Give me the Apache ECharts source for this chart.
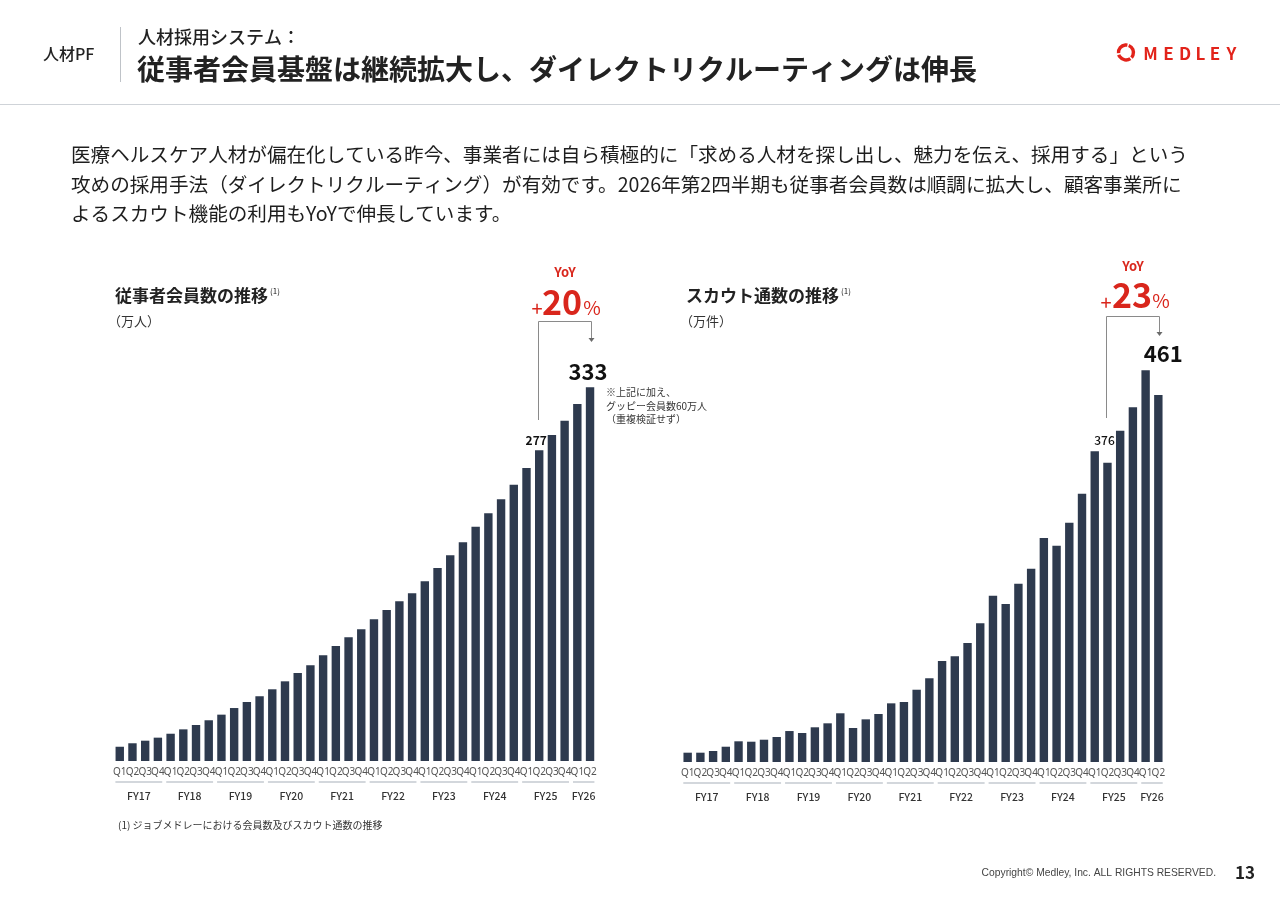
<!DOCTYPE html>
<html><head><meta charset="utf-8">
<script src="https://cdn.jsdelivr.net/npm/echarts@6.0.0/dist/echarts.min.js"></script>
<style>html,body{margin:0;padding:0;background:#fff}#c{width:1280px;height:905px}</style>
</head><body><div id="c"></div>
<script>
// ---- data ----
const fiscalYears = ['FY17','FY18','FY19','FY20','FY21','FY22','FY23','FY24','FY25','FY26'];
const quartersPerYear = [4,4,4,4,4,4,4,4,4,2];
const quarterLabels = ['Q1','Q2','Q3','Q4'];
// 従事者会員数 (万人)
const memberValues = [12.7,15.8,18.1,20.8,24.3,28.2,32.1,36.3,41.3,47.2,52.6,57.7,63.9,71.0,78.4,85.3,94.2,102.5,110.2,117.4,126.3,134.6,142.3,149.4,160.1,172.0,183.3,194.9,208.8,220.7,233.2,246.2,261.1,277,290.5,303.2,318.1,333];
// スカウト通数 (万件)
const scoutValues = [11.7,11.7,13.8,19.2,26.0,25.5,28.0,31.4,38.9,36.4,43.6,48.6,61.2,42.7,53.6,60.3,73.7,75.4,90.8,105.2,126.9,132.8,149.5,174.2,208.9,198.5,224.0,242.8,281.4,271.7,300.6,337.1,390.3,376,416.2,445.6,492.1,461];
const yoyFrom = 33, yoyTo = 37;
const memberYoY = '20', scoutYoY = '23';

// ---- derived ----
const categories = [];
const fyRanges = [];
fiscalYears.forEach((fy, k) => {
  const s = categories.length;
  for (let q = 0; q < quartersPerYear[k]; q++) categories.push(fy + ' ' + quarterLabels[q]);
  fyRanges.push([s, categories.length - 1]);
});

const FONT = "'Noto Sans CJK JP','Noto Sans',sans-serif";
const BAR = '#2e3a4e';
const RED = '#d9261c';

function barData(vals, small, big) {
  return vals.map((v, i) => {
    if (i === yoyFrom) return {value: v, label: Object.assign({show: true, position: 'top', color: '#111', fontFamily: FONT, formatter: '{c}'}, small)};
    if (i === yoyTo) return {value: v, label: Object.assign({show: true, position: 'top', color: '#111', fontFamily: FONT, formatter: '{c}'}, big)};
    return v;
  });
}

function fySeries(idx) {
  return {
    type: 'custom', xAxisIndex: idx, yAxisIndex: idx, silent: true, clip: false,
    data: fyRanges,
    renderItem(params, api) {
      const s = api.value(0), e = api.value(1);
      const p0 = api.coord([s, 0]), p1 = api.coord([e, 0]);
      const w = api.size([1, 0])[0];
      const x0 = p0[0] - w / 2 + 2, x1 = p1[0] + w / 2 - 2;
      const y = p0[1];
      return {type: 'group', children: [
        {type: 'line', shape: {x1: x0, y1: y + 21, x2: x1, y2: y + 21}, style: {stroke: '#d3d7dc', lineWidth: 2}},
        {type: 'text', style: {text: fiscalYears[params.dataIndex], x: (x0 + x1) / 2, y: y + 35, align: 'center', verticalAlign: 'middle', textAlign: 'center', textVerticalAlign: 'middle', fill: '#333', font: '500 10.5px ' + FONT}}
      ]};
    }
  };
}

const xAxisBase = {
  type: 'category', data: categories,
  axisLine: {show: false}, axisTick: {show: false},
  axisLabel: {interval: 0, formatter: v => v.slice(-2), fontSize: 10, color: '#555', margin: 6, fontFamily: "'Noto Sans',sans-serif"}
};

const chart = echarts.init(document.getElementById('c'), null, {renderer: 'canvas'});
chart.setOption({
  animation: false,
  grid: [
    {left: 113.4, width: 483, top: 312.1, height: 448.9},
    {left: 681.3, width: 483.4, top: 284.4, height: 477.6}
  ],
  xAxis: [Object.assign({gridIndex: 0}, xAxisBase), Object.assign({gridIndex: 1}, xAxisBase)],
  yAxis: [
    {gridIndex: 0, type: 'value', min: 0, max: 400, show: false},
    {gridIndex: 1, type: 'value', min: 0, max: 600, show: false}
  ],
  series: [
    {type: 'bar', xAxisIndex: 0, yAxisIndex: 0, barWidth: 8.4, itemStyle: {color: BAR},
     data: barData(memberValues, {fontSize: 12, fontWeight: 'bold', distance: 4, offset: [-3, 0]}, {fontSize: 22, fontWeight: 'bold', distance: 5, offset: [-2, 0]})},
    {type: 'bar', xAxisIndex: 1, yAxisIndex: 1, barWidth: 8.4, itemStyle: {color: BAR},
     data: barData(scoutValues, {fontSize: 12, fontWeight: 500, distance: 16, offset: [-3, 0]}, {fontSize: 22, fontWeight: 'bold', distance: 30, offset: [5, 0]})},
    fySeries(0), fySeries(1)
  ]
});

function T(text, x, y, font, fill, align, vAlign) {
  align = align || 'left'; vAlign = vAlign || 'middle';
  return {type: 'text', silent: true, style: {text, x, y, font, fill, align, verticalAlign: vAlign, textAlign: align, textVerticalAlign: vAlign}};
}
function L(x1, y1, x2, y2, stroke, lw) {
  return {type: 'line', silent: true, shape: {x1, y1, x2, y2}, style: {stroke, lineWidth: lw || 1}};
}

function bracket(gi, topY, bottomY, arrowY) {
  const a = chart.convertToPixel({xAxisIndex: gi, yAxisIndex: gi}, [yoyFrom, 0]);
  const b = chart.convertToPixel({xAxisIndex: gi, yAxisIndex: gi}, [yoyTo, 0]);
  const xa = Math.round(a[0]) - 1 + 0.5, xb = Math.round(b[0]) + 1 + 0.5;
  return [
    {type: 'polyline', silent: true, shape: {points: [[xa, bottomY], [xa, topY], [xb, topY], [xb, arrowY - 3]]}, style: {stroke: '#8a8a8a', lineWidth: 1, fill: null}},
    {type: 'polygon', silent: true, shape: {points: [[xb - 3, arrowY - 4], [xb + 3, arrowY - 4], [xb, arrowY]]}, style: {fill: '#6a6a6a'}}
  ];
}

const g = [];
// header
g.push(T('人材PF', 43, 54, '500 16px ' + FONT, '#222'));
g.push(L(120.5, 27, 120.5, 82, '#bfc3c8', 1));
g.push(T('人材採用システム：', 138, 37, '500 18px ' + FONT, '#222'));
g.push(T('従事者会員基盤は継続拡大し、ダイレクトリクルーティングは伸長', 137, 69, 'bold 28px ' + FONT, '#222'));
g.push(L(0, 104.5, 1280, 104.5, '#cfd3d8', 1));
// logo
g.push({type: 'arc', silent: true, shape: {cx: 1126, cy: 52.5, r: 7.5, startAngle: -1.2, endAngle: 0.75}, style: {stroke: '#e2231a', lineWidth: 3.4, fill: null}});
g.push({type: 'arc', silent: true, shape: {cx: 1126, cy: 52.5, r: 7.5, startAngle: 0.95, endAngle: 2.85}, style: {stroke: '#e2231a', lineWidth: 3.4, fill: null}});
g.push({type: 'arc', silent: true, shape: {cx: 1126, cy: 52.5, r: 7.5, startAngle: 3.05, endAngle: 4.9}, style: {stroke: '#e2231a', lineWidth: 3.4, fill: null}});
const logoLetters = ['M','E','D','L','E','Y'];
const logoX = [1150.5, 1168.5, 1185, 1200.5, 1215, 1231.5];
logoLetters.forEach((ch, i) => g.push(T(ch, logoX[i], 53.5, 'bold 17px ' + FONT, '#e2231a', 'center')));
// paragraph
g.push(T('医療ヘルスケア人材が偏在化している昨今、事業者には自ら積極的に「求める人材を探し出し、魅力を伝え、採用する」という', 71, 155, '19.6px ' + FONT, '#1e1e1e'));
g.push(T('攻めの採用手法（ダイレクトリクルーティング）が有効です。2026年第2四半期も従事者会員数は順調に拡大し、顧客事業所に', 71, 185, '19.6px ' + FONT, '#1e1e1e'));
g.push(T('よるスカウト機能の利用もYoYで伸長しています。', 71, 214, '19.6px ' + FONT, '#1e1e1e'));
// chart titles
g.push(T('従事者会員数の推移', 115, 296, 'bold 17px ' + FONT, '#222'));
g.push(T('(1)', 270, 291, '8px ' + FONT, '#222'));
g.push(T('（万人）', 108, 321, '13px ' + FONT, '#333'));
g.push(T('スカウト通数の推移', 686, 296, 'bold 17px ' + FONT, '#222'));
g.push(T('(1)', 841, 291, '8px ' + FONT, '#222'));
g.push(T('（万件）', 680, 321, '13px ' + FONT, '#333'));
// YoY left
g.push(T('YoY', 565, 272, 'bold 13px ' + FONT, RED, 'center'));
g.push(T('+', 537, 308, '20px ' + FONT, RED, 'center'));
g.push(T(memberYoY, 562, 302, 'bold 34px ' + FONT, RED, 'center'));
g.push(T('%', 592, 308, '19px ' + FONT, RED, 'center'));
bracket(0, 321.5, 420, 342).forEach(e => g.push(e));
// note
g.push(T('※上記に加え、', 606, 392, '10px ' + FONT, '#333'));
g.push(T('グッピー会員数60万人', 606, 406, '10px ' + FONT, '#333'));
g.push(T('（重複検証せず）', 606, 419, '10px ' + FONT, '#333'));
// YoY right
g.push(T('YoY', 1133, 266, 'bold 13px ' + FONT, RED, 'center'));
g.push(T('+', 1106, 302, '20px ' + FONT, RED, 'center'));
g.push(T(scoutYoY, 1132, 295, 'bold 34px ' + FONT, RED, 'center'));
g.push(T('%', 1161, 301, '19px ' + FONT, RED, 'center'));
bracket(1, 316.5, 418, 336).forEach(e => g.push(e));
// footnote & footer
g.push(T('(1) ジョブメドレーにおける会員数及びスカウト通数の推移', 118, 825, '10px ' + FONT, '#333'));
g.push(T('Copyright© Medley, Inc. ALL RIGHTS RESERVED.', 1216, 873, '10.3px "Liberation Sans",Arial,sans-serif', '#444', 'right'));
g.push(T('13', 1245, 873, 'bold 17px ' + FONT, '#222', 'center'));

chart.setOption({graphic: g});
</script></body></html>
